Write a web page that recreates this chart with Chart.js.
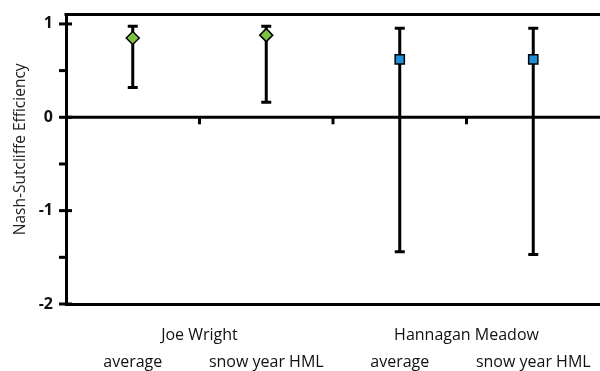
<!DOCTYPE html>
<html>
<head>
<meta charset="utf-8">
<script src="https://cdn.jsdelivr.net/npm/chart.js@4.4.1/dist/chart.umd.min.js"></script>
<style>
  html, body { margin: 0; padding: 0; background: #fff; }
  #wrap { width: 600px; height: 371px; position: relative; }
</style>
</head>
<body>
<div id="wrap"><canvas id="c" width="600" height="371"></canvas></div>
<script>
// Model runs: site group and run type for each column
const categories = ['average', 'snow year HML', 'average', 'snow year HML'];
const siteGroups = ['Joe Wright', 'Hannagan Meadow'];

// Nash-Sutcliffe efficiency (mean) with its min / max range
const joeWrightNSE = [0.85, 0.88, null, null];
const joeWrightMin = [0.32, 0.16, null, null];
const joeWrightMax = [0.975, 0.975, null, null];

const hannaganNSE = [null, null, 0.62, 0.62];
const hannaganMin = [null, null, -1.44, -1.47];
const hannaganMax = [null, null, 0.955, 0.955];

const yTickValues = [-2, -1, 0, 1];
const yMinorStep = 0.5;
const yTitle = 'Nash-Sutcliffe Efficiency';

const FONT = "'Open Sans', 'Liberation Sans', sans-serif";

// Draws min-max whiskers, the zero line with its tick marks, the top frame
// line, the axis title and the two rows of category labels under the plot.
const decorations = {
  id: 'decorations',
  beforeDatasetsDraw(chart) {
    const { ctx, chartArea, scales } = chart;
    const x = scales.x, y = scales.y;
    ctx.save();
    ctx.strokeStyle = '#000';
    ctx.lineWidth = 3;
    ctx.lineCap = 'butt';

    // top frame line
    ctx.beginPath();
    ctx.moveTo(chartArea.left - 1.5, chartArea.top);
    ctx.lineTo(chartArea.right, chartArea.top);
    ctx.stroke();

    // zero line with downward ticks at category boundaries
    const y0 = y.getPixelForValue(0);
    ctx.beginPath();
    ctx.moveTo(chartArea.left, y0);
    ctx.lineTo(chartArea.right, y0);
    ctx.stroke();
    for (let i = 1; i < categories.length; i++) {
      const bx = (x.getPixelForValue(i - 1) + x.getPixelForValue(i)) / 2;
      ctx.beginPath();
      ctx.moveTo(bx, y0);
      ctx.lineTo(bx, y0 + 7);
      ctx.stroke();
    }

    // y ticks: major ones cross the axis, minor ones stay outside
    const lo = yTickValues[0], hi = yTickValues[yTickValues.length - 1];
    for (let v = lo; v <= hi; v += yMinorStep) {
      const py = y.getPixelForValue(v);
      const major = yTickValues.includes(v);
      ctx.beginPath();
      ctx.moveTo(chartArea.left - 7, py);
      ctx.lineTo(chartArea.left + (major ? 6 : 0), py);
      ctx.stroke();
    }

    // whiskers
    const ranges = [[joeWrightMin, joeWrightMax], [hannaganMin, hannaganMax]];
    ranges.forEach(([mins, maxs]) => {
      for (let i = 0; i < categories.length; i++) {
        if (mins[i] == null) continue;
        const px = x.getPixelForValue(i);
        const pLo = y.getPixelForValue(mins[i]);
        const pHi = y.getPixelForValue(maxs[i]);
        ctx.beginPath();
        ctx.moveTo(px, pLo);
        ctx.lineTo(px, pHi);
        ctx.moveTo(px - 5, pLo);
        ctx.lineTo(px + 5, pLo);
        ctx.moveTo(px - 5, pHi);
        ctx.lineTo(px + 5, pHi);
        ctx.stroke();
      }
    });
    ctx.restore();
  },
  afterDraw(chart) {
    const { ctx, chartArea, scales } = chart;
    const x = scales.x;
    ctx.save();
    ctx.fillStyle = '#111';
    ctx.font = '16px ' + FONT;
    ctx.textAlign = 'center';
    ctx.textBaseline = 'alphabetic';
    siteGroups.forEach((g, k) => {
      const cx = (x.getPixelForValue(2 * k) + x.getPixelForValue(2 * k + 1)) / 2;
      ctx.fillText(g, cx, chartArea.bottom + 36);
    });
    categories.forEach((c, i) => {
      ctx.fillText(c, x.getPixelForValue(i), chartArea.bottom + 63);
    });

    // rotated y-axis title
    ctx.translate(25, (chartArea.top + chartArea.bottom) / 2 - 10);
    ctx.rotate(-Math.PI / 2);
    ctx.fillStyle = '#222';
    ctx.font = '15.5px ' + FONT;
    ctx.fillText(yTitle, 0, 0);
    ctx.restore();
  }
};

new Chart(document.getElementById('c'), {
  type: 'line',
  data: {
    labels: categories,
    datasets: [
      {
        label: siteGroups[0],
        data: joeWrightNSE,
        showLine: false,
        pointStyle: 'rectRot',
        pointRadius: 6.5,
        pointHoverRadius: 6.5,
        pointBackgroundColor: '#7cc142',
        pointBorderColor: '#000',
        pointBorderWidth: 1.5
      },
      {
        label: siteGroups[1],
        data: hannaganNSE,
        showLine: false,
        pointStyle: 'rect',
        pointRadius: 6.5,
        pointHoverRadius: 6.5,
        pointBackgroundColor: '#1f8fd8',
        pointBorderColor: '#000',
        pointBorderWidth: 1.5
      }
    ]
  },
  options: {
    responsive: false,
    animation: false,
    events: [],
    layout: { autoPadding: false, padding: { left: 0, right: -2, top: 13, bottom: 65.5 } },
    plugins: { legend: { display: false }, tooltip: { enabled: false } },
    scales: {
      x: {
        type: 'category',
        offset: true,
        grid: { display: false },
        border: { display: true, color: '#000', width: 3 },
        ticks: { display: false },
        afterFit(scale) { scale.height = 1.5; }
      },
      y: {
        min: -2,
        max: 1.1,
        grid: { display: false },
        border: { display: true, color: '#000', width: 3 },
        afterBuildTicks(scale) {
          scale.ticks = yTickValues.map(v => ({ value: v }));
        },
        ticks: {
          color: '#111',
          padding: 5,
          font: { family: FONT, size: 16, weight: 'bold' },
          callback(value) { return String(value); }
        },
        afterFit(scale) { scale.width = 66; }
      }
    }
  },
  plugins: [decorations]
});
</script>
</body>
</html>
